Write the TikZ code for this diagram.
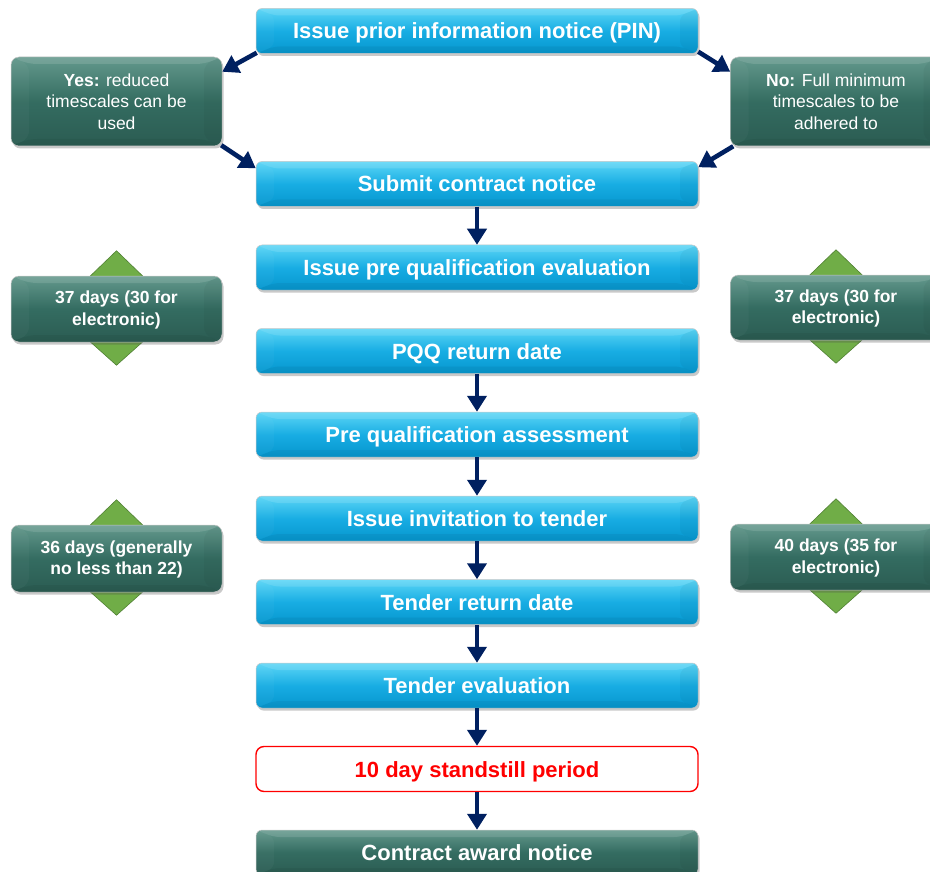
\documentclass[tikz,border=0pt]{standalone}
\usepackage{fontspec}
\setmainfont{Liberation Sans}
\usetikzlibrary{arrows.meta,shadows,calc}

\definecolor{flowblue}{RGB}{24,173,227}
\definecolor{flowbluetop}{RGB}{92,214,246}
\definecolor{flowbluebot}{RGB}{6,150,206}
\definecolor{boxgreen}{RGB}{52,108,97}
\definecolor{boxgreentop}{RGB}{100,153,141}
\definecolor{boxgreenbot}{RGB}{43,92,82}
\definecolor{navyarrow}{RGB}{0,32,96}
\definecolor{leafgreen}{RGB}{112,173,71}
\definecolor{leafedge}{RGB}{80,128,52}
\definecolor{alertred}{RGB}{255,0,0}

\pgfdeclarelayer{background}
\pgfsetlayers{background,main}

\tikzset{
  % soft bevel facets drawn inside a box
  bevelfacets/.style={path picture={
    \fill[white,opacity=0.12]
      (path picture bounding box.north west) -- (path picture bounding box.north east)
      -- ([xshift=-18pt,yshift=-7pt]path picture bounding box.north east)
      -- ([xshift=18pt,yshift=-7pt]path picture bounding box.north west) -- cycle;
    \fill[black,opacity=0.05]
      (path picture bounding box.south west) -- (path picture bounding box.south east)
      -- ([xshift=-18pt,yshift=7pt]path picture bounding box.south east)
      -- ([xshift=18pt,yshift=7pt]path picture bounding box.south west) -- cycle;
    \fill[white,opacity=0.03]
      (path picture bounding box.north west)
      -- ([xshift=18pt,yshift=-7pt]path picture bounding box.north west)
      -- ([xshift=18pt,yshift=7pt]path picture bounding box.south west)
      -- (path picture bounding box.south west) -- cycle;
    \fill[black,opacity=0.035]
      (path picture bounding box.north east)
      -- ([xshift=-18pt,yshift=-7pt]path picture bounding box.north east)
      -- ([xshift=-18pt,yshift=7pt]path picture bounding box.south east)
      -- (path picture bounding box.south east) -- cycle;
  }},
  softshadow/.style={drop shadow={shadow xshift=1.5pt,shadow yshift=-2.5pt,
      opacity=0.3,fill=black!70}},
  bluestep/.style={rectangle, rounded corners=6pt, minimum width=442pt,
      minimum height=45pt, text height=16pt, text depth=0pt,
      top color=flowbluetop, bottom color=flowbluebot,
      middle color=flowblue, draw=black!22, line width=0.5pt, softshadow,
      bevelfacets, text=white, font=\fontsize{22}{26}\selectfont\bfseries},
  greenstep/.style={bluestep, top color=boxgreentop, bottom color=boxgreenbot,
      middle color=boxgreen},
  sidenote/.style={rectangle, rounded corners=8pt, minimum width=211pt,
      top color=boxgreentop, bottom color=boxgreenbot, middle color=boxgreen,
      draw=black!22, line width=0.5pt, softshadow, bevelfacets,
      text=white, align=center, font=\fontsize{17.5}{21.5}\selectfont},
  daynote/.style={sidenote, font=\fontsize{17.5}{21.5}\selectfont\bfseries},
  standstill/.style={rectangle, rounded corners=8pt, minimum width=442pt,
      minimum height=45pt, text height=16pt, text depth=0pt,
      draw=alertred, line width=1.4pt, fill=white,
      text=alertred, font=\fontsize{22}{26}\selectfont\bfseries},
  flowarrow/.style={draw=navyarrow, line width=4.6pt,
      -{Triangle[length=16pt,width=19pt]}},
  leafmark/.style={fill=leafgreen, draw=leafedge, line width=0.6pt},
}

% up/down pointer pair behind a duration box
\newcommand\pointerpair[1]{%
  \draw[leafmark]
    ([yshift=25pt]#1.north) -- ([xshift=28pt,yshift=-2pt]#1.north)
    -- ([xshift=28pt,yshift=2pt]#1.south) -- ([yshift=-23pt]#1.south)
    -- ([xshift=-28pt,yshift=2pt]#1.south) -- ([xshift=-28pt,yshift=-2pt]#1.north)
    -- cycle;}

\begin{document}
\begin{tikzpicture}[x=1pt,y=-1pt]
\useasboundingbox (0,0) rectangle (930,872);
\clip (0,0) rectangle (930,872);

% main column
\node[bluestep] (pin)    at (477,31)    {Issue prior information notice (PIN)};
\node[bluestep] (submit) at (477,184)   {Submit contract notice};
\node[bluestep] (pqeval) at (477,267.5) {Issue pre qualification evaluation};
\node[bluestep] (pqq)    at (477,351)   {PQQ return date};
\node[bluestep] (pqass)  at (477,434.5) {Pre qualification assessment};
\node[bluestep] (itt)    at (477,518.5) {Issue invitation to tender};
\node[bluestep] (tret)   at (477,602)   {Tender return date};
\node[bluestep] (teval)  at (477,685.5) {Tender evaluation};
\node[standstill] (hold) at (477,769)   {10 day standstill period};
\node[greenstep] (award) at (477,852.5) {Contract award notice};

% PIN outcomes
\node[sidenote, minimum height=89pt] (yes) at (116.5,101.5)
  {\textbf{Yes:} reduced\\timescales can be\\used};
\node[sidenote, minimum height=89pt] (no) at (836,101.5)
  {\textbf{No:} Full minimum\\timescales to be\\adhered to};

% durations
\node[daynote, minimum height=66pt] (d37l) at (116.5,309)
  {\strut 37 days (30 for\\electronic)};
\node[daynote, minimum height=65pt] (d37r) at (836,307.5)
  {\strut 37 days (30 for\\electronic)};
\node[daynote, minimum height=67pt] (d36l) at (116.5,558.5)
  {\strut 36 days (generally\\no less than 22)};
\node[daynote, minimum height=66pt] (d40r) at (836,557)
  {\strut 40 days (35 for\\electronic)};

\begin{pgfonlayer}{background}
  \pointerpair{d37l}
  \pointerpair{d37r}
  \pointerpair{d36l}
  \pointerpair{d40r}
\end{pgfonlayer}

% connectors
\draw[flowarrow] ([xshift=1pt,yshift=1pt]pin.south west) -- ([yshift=-15pt]yes.north east);
\draw[flowarrow] ([xshift=-1pt,yshift=1pt]yes.south east) -- ([yshift=-7pt]submit.north west);
\draw[flowarrow] ([yshift=2pt]pin.south east) -- ([yshift=-15pt]no.north west);
\draw[flowarrow] ([xshift=3pt,yshift=0pt]no.south west) -- ([yshift=-6pt]submit.north east);

\draw[flowarrow] (submit) -- (pqeval);
\draw[flowarrow] (pqq) -- (pqass);
\draw[flowarrow] (pqass) -- (itt);
\draw[flowarrow] (itt) -- (tret);
\draw[flowarrow] (tret) -- (teval);
\draw[flowarrow] (teval) -- (hold);
\draw[flowarrow] (hold) -- (award);
\end{tikzpicture}
\end{document}
